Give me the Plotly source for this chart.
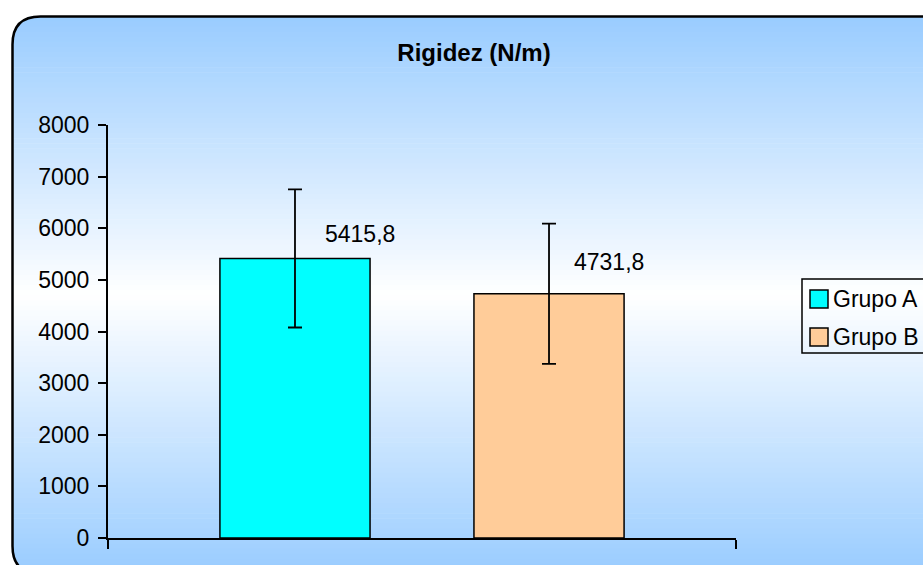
import plotly.graph_objects as go

# ---------------- data ----------------
title_text = "Rigidez (N/m)"
category = [" "]
series_names = ["Grupo A", "Grupo B"]
series_values = [5415.8, 4731.8]
series_errors = [1338, 1358]
series_colors = ["#00FFFF", "#FFCC99"]
y_ticks = [0, 1000, 2000, 3000, 4000, 5000, 6000, 7000, 8000]

# ---------------- layout constants (style) ----------------
W, H = 923, 565
ML, MR, MT, MB = 108, 187, 125, 27
PW = W - ML - MR
PH = H - MT - MB
FONT = "Liberation Sans, Arial, sans-serif"
BARGAP = 0.191
BARGROUPGAP = 0.409
LABEL_DX = [65, 60]
LABEL_DY = [24, 32]
LEG_LEFT, LEG_TOP, LEG_ROW, LEG_SW = 802, 279, 38, 18


def px_x(px):
    return (px - ML) / PW


def px_y(py):
    return (H - MB - py) / PH


fig = go.Figure()

for name, val, err, col in zip(series_names, series_values, series_errors, series_colors):
    fig.add_trace(go.Bar(
        x=category, y=[val], name=name,
        marker=dict(color=col, line=dict(color="black", width=1.5)),
        error_y=dict(type="data", array=[err], visible=True,
                     color="black", thickness=1.8, width=7),
        showlegend=False, hoverinfo="name+y",
    ))

# ---------------- background: frame with gradient ----------------
shapes = []
x0, y0 = 12.5, 16.5
x1, y1 = 960, 574
r = 28
top_col = (153, 204, 255)
mid_col = (255, 255, 255)
ymid = (y0 + y1) / 2
N = 110
for i in range(N):
    ya = y0 + (y1 - y0) * i / N
    yb = y0 + (y1 - y0) * (i + 1) / N + 0.6
    yc = (ya + yb) / 2
    t = abs(yc - ymid) / (ymid - y0)
    t = min(max(t, 0), 1)
    c = tuple(round(mid_col[k] + (top_col[k] - mid_col[k]) * t) for k in range(3))
    shapes.append(dict(type="rect", xref="paper", yref="paper", layer="below",
                       x0=px_x(x0), x1=px_x(x1), y0=px_y(yb), y1=px_y(ya),
                       fillcolor="rgb(%d,%d,%d)" % c, line=dict(width=0)))


def P(px, py):
    return "%.5f,%.5f" % (px_x(px), px_y(py))


mask_tl = "M %s L %s Q %s %s L %s Z" % (P(x0 - 2, y0 - 2), P(x0 + r, y0 - 2), P(x0, y0), P(x0, y0 + r), P(x0 - 2, y0 + r))
mask_bl = "M %s L %s Q %s %s L %s Z" % (P(x0 - 2, y1 + 2), P(x0 + r, y1 + 2), P(x0, y1), P(x0, y1 - r), P(x0 - 2, y1 - r))
for pth in (mask_tl, mask_bl):
    shapes.append(dict(type="path", xref="paper", yref="paper", layer="below",
                       path=pth, fillcolor="white", line=dict(width=0)))

frame = "M %s Q %s %s L %s L %s L %s Q %s %s Z" % (
    P(x0, y0 + r), P(x0, y0), P(x0 + r, y0), P(x1, y0), P(x1, y1),
    P(x0 + r, y1), P(x0, y1), P(x0, y1 - r))
shapes.append(dict(type="path", xref="paper", yref="paper", layer="below",
                   path=frame, fillcolor="rgba(0,0,0,0)",
                   line=dict(color="black", width=2.5)))

# ---------------- value labels ----------------
slot_px = PW * (1 - BARGAP) / len(series_names)
annotations = []
for i, val in enumerate(series_values):
    off = (i - (len(series_names) - 1) / 2) * slot_px
    annotations.append(dict(
        x=category[0], y=val, xref="x", yref="y",
        text=("%.1f" % val).replace(".", ","), showarrow=False,
        xanchor="center", yanchor="middle",
        xshift=off + LABEL_DX[i], yshift=LABEL_DY[i],
        font=dict(family=FONT, size=23, color="black"),
    ))

# ---------------- legend (drawn: box, swatches, names) ----------------
shapes.append(dict(type="rect", xref="paper", yref="paper",
                   x0=px_x(LEG_LEFT), x1=px_x(LEG_LEFT + 140),
                   y0=px_y(LEG_TOP + 2 * LEG_ROW - 2), y1=px_y(LEG_TOP),
                   fillcolor="rgba(0,0,0,0)", line=dict(color="black", width=1.5)))
for i, (name, col) in enumerate(zip(series_names, series_colors)):
    cy = LEG_TOP + 20 + i * LEG_ROW
    shapes.append(dict(type="rect", xref="paper", yref="paper",
                       x0=px_x(LEG_LEFT + 8), x1=px_x(LEG_LEFT + 8 + LEG_SW),
                       y0=px_y(cy + LEG_SW / 2), y1=px_y(cy - LEG_SW / 2),
                       fillcolor=col, line=dict(color="black", width=1.5)))
    annotations.append(dict(
        x=px_x(LEG_LEFT + 29), y=px_y(cy), xref="paper", yref="paper",
        text=name, showarrow=False, xanchor="left", yanchor="middle",
        font=dict(family=FONT, size=23, color="black")))

fig.update_layout(
    width=W, height=H,
    margin=dict(l=ML, r=MR, t=MT, b=MB, autoexpand=False),
    paper_bgcolor="white", plot_bgcolor="rgba(0,0,0,0)",
    barmode="group", bargap=BARGAP, bargroupgap=BARGROUPGAP,
    title=dict(text="<b>%s</b>" % title_text, x=474 / W, xref="container",
               xanchor="center", y=1 - 53 / H, yref="container", yanchor="middle",
               font=dict(family=FONT, size=24, color="black")),
    xaxis=dict(type="category", range=[-0.5, 0.5], showline=True,
               linecolor="black", linewidth=2, ticks="outside",
               tickson="boundaries", ticklen=9, tickwidth=2, tickcolor="black",
               showticklabels=False, showgrid=False, zeroline=False, fixedrange=True),
    yaxis=dict(range=[0, 8000], tickmode="array", tickvals=y_ticks,
               ticktext=[str(v) for v in y_ticks],
               showline=True, linecolor="black", linewidth=2,
               ticks="outside", ticklen=8, tickwidth=2, tickcolor="black",
               ticklabelstandoff=4,
               tickfont=dict(family=FONT, size=23, color="black"),
               showgrid=False, zeroline=False),
    shapes=shapes,
    annotations=annotations,
    showlegend=False,
)

fig.write_html("out.html", config={"displayModeBar": False},
               post_script="document.body.style.margin='0';")
